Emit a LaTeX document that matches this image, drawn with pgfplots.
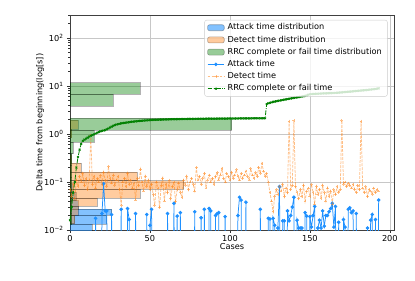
\documentclass[border=0pt]{standalone}
\usepackage{pgfplots}
\pgfplotsset{compat=1.18}
\usepackage{fontspec}
\setmainfont{DejaVu Sans}
\definecolor{attackc}{RGB}{30,144,255}
\definecolor{detectc}{RGB}{255,127,14}
\definecolor{rrcc}{RGB}{0,128,0}
\newcommand{\fs}{\fontsize{8.2bp}{9.8bp}\selectfont}
\newcommand{\hb}[4]{\addplot[#1, forget plot] coordinates {(0,#2) (#4,#2) (#4,#3) (0,#3)} -- cycle;}
\pgfplotsset{
  hbb/.style={fill=attackc, fill opacity=0.55, draw=black, draw opacity=0.3, line width=0.6bp},
  hbo/.style={fill=detectc, fill opacity=0.4, draw=black, draw opacity=0.3, line width=0.6bp},
  hbg/.style={fill=rrcc, fill opacity=0.4, draw=black, draw opacity=0.3, line width=0.6bp},
  myarea/.style={legend image code/.code={\draw[##1] (0bp,-3bp) rectangle (16.7bp,3bp);}},
  myline/.style={legend image code/.code={\draw[mark repeat=2,mark phase=2,##1] plot coordinates {(0bp,0bp) (8.35bp,0bp) (16.7bp,0bp)};}},
}
\begin{document}
\begin{tikzpicture}
\useasboundingbox (-70bp,-51bp) rectangle (345bp,230bp);
\begin{axis}[
  scale only axis, width=324bp, height=215bp,
  at={(0,0)}, anchor=south west,
  xmin=0, xmax=202.6,
  ymode=log, ymin=0.01, ymax=300,
  xtick={0,50,100,150,200}, xticklabels={0,50,100,150,200},
  ytick={0.01,0.1,1,10,100},
  yticklabels={10\textsuperscript{−2},10\textsuperscript{−1},10\textsuperscript{0},10\textsuperscript{1},10\textsuperscript{2}},
  minor ytick={0.02,0.03,0.04,0.05,0.06,0.07,0.08,0.09,0.2,0.3,0.4,0.5,0.6,0.7,0.8,0.9,2,3,4,5,6,7,8,9,20,30,40,50,60,70,80,90,200,300},
  tick align=outside, tick pos=left,
  major tick length=3bp, minor tick length=1.7bp,
  every tick/.style={black!80, line width=0.65bp},
  grid=major,
  major grid style={black!22, line width=0.65bp},
  axis line style={black!75, line width=0.65bp},
  tick label style={font=\fs},
  xticklabel style={yshift=1.5bp},
  label style={font=\fs},
  xlabel={Cases},
  ylabel={Delta time from beginning(log[s])},
  xlabel style={at={(axis description cs:0.5,-0.0777)}, anchor=center},
  ylabel style={at={(axis description cs:-0.0926,0.5)}, anchor=center},
  legend cell align=left,
  legend style={
    at={(axis description cs:0.98,0.977)}, anchor=north east,
    font=\fs, draw=black!20, fill=white, fill opacity=0.8, draw opacity=1, text opacity=1,
    rounded corners=2bp, inner xsep=2.5bp, inner ysep=1.5bp, row sep=0bp,
    nodes={inner xsep=3bp, inner ysep=2.1bp, text height=6.1bp, text depth=1.9bp},
  },
]
\addlegendimage{myarea, hbb}\addlegendentry{Attack time distribution}
\addlegendimage{myarea, hbo}\addlegendentry{Detect time distribution}
\addlegendimage{myarea, hbg}\addlegendentry{RRC complete or fail time distribution}
% attack histogram
\hb{hbb}{0.0611}{0.0919}{2}
\hb{hbb}{0.0406}{0.0611}{4}
\hb{hbb}{0.0270}{0.0406}{5}
\hb{hbb}{0.02025}{0.0270}{26}
\hb{hbb}{0.01334}{0.02025}{23}
\hb{hbb}{0.00895}{0.01334}{14}
% detect histogram
\hb{hbo}{1.271}{1.921}{5}
\hb{hbo}{0.841}{1.271}{1}
\hb{hbo}{0.2436}{0.3684}{1}
\hb{hbo}{0.1612}{0.2436}{7}
\hb{hbo}{0.1067}{0.1612}{42}
\hb{hbo}{0.07059}{0.1067}{71}
\hb{hbo}{0.0467}{0.07059}{44}
\hb{hbo}{0.03092}{0.0467}{17}
\hb{hbo}{0.02045}{0.03092}{5}
\hb{hbo}{0.01353}{0.02045}{3}
% rrc histogram
\hb{hbg}{6.67}{11.75}{44}
\hb{hbg}{3.75}{6.67}{27}
\hb{hbg}{1.206}{2.126}{101}
\hb{hbg}{0.684}{1.206}{15}
\hb{hbg}{0.388}{0.684}{2}
\hb{hbg}{0.220}{0.388}{1}
\hb{hbg}{0.125}{0.220}{1}
\hb{hbg}{0.071}{0.125}{1}
\hb{hbg}{0.0402}{0.071}{1}
\hb{hbg}{0.0228}{0.0402}{1}
\hb{hbg}{0.0130}{0.0228}{1}
% attack time
\addplot[attackc, line width=0.75bp, mark=*, mark size=1.4bp, myline] coordinates {
(0,1e-6)(1,1e-6)(2,1e-6)(3,1e-6)(4,1e-6)(5,1e-6)(6,1e-6)(7,1e-6)(8,1e-6)(9,1e-6)
(10,1e-6)(11,1e-6)(12,1e-6)(13,1e-6)(14,1e-6)(15,1e-6)(16,0.0175)(17,1e-6)(18,1e-6)(19,1e-6)
(20,0.022)(21,0.092)(22,0.025)(23,0.025)(24,1e-6)(25,1e-6)(26,0.021)(27,1e-6)(28,1e-6)(29,1e-6)
(30,1e-6)(31,1e-6)(32,0.027)(33,1e-6)(34,1e-6)(35,1e-6)(36,0.028)(37,0.0165)(38,1e-6)(39,1e-6)
(40,1e-6)(41,0.022)(42,1e-6)(43,1e-6)(44,1e-6)(45,1e-6)(46,1e-6)(47,1e-6)(48,0.021)(49,1e-6)
(50,0.0125)(51,0.027)(52,1e-6)(53,1e-6)(54,1e-6)(55,1e-6)(56,1e-6)(57,1e-6)(58,1e-6)(59,1e-6)
(60,1e-6)(61,0.022)(62,1e-6)(63,1e-6)(64,1e-6)(65,0.036)(66,1e-6)(67,0.0195)(68,1e-6)(69,0.023)
(70,1e-6)(71,1e-6)(72,1e-6)(73,1e-6)(74,1e-6)(75,1e-6)(76,1e-6)(77,1e-6)(78,0.024)(79,1e-6)
(80,1e-6)(81,1e-6)(82,0.018)(83,1e-6)(84,0.027)(85,1e-6)(86,1e-6)(87,0.028)(88,0.025)(89,1e-6)
(90,1e-6)(91,0.02)(92,0.022)(93,0.023)(94,1e-6)(95,1e-6)(96,1e-6)(97,0.019)(98,1e-6)(99,1e-6)
(100,1e-6)(101,1e-6)(102,1e-6)(103,1e-6)(104,1e-6)(105,0.02)(106,0.048)(107,0.042)(108,1e-6)(109,1e-6)
(110,0.038)(111,1e-6)(112,1e-6)(113,1e-6)(114,1e-6)(115,1e-6)(116,1e-6)(117,1e-6)(118,1e-6)(119,0.027)
(120,1e-6)(121,1e-6)(122,1e-6)(123,1e-6)(124,0.0175)(125,0.017)(126,1e-6)(127,0.0175)(128,0.0125)(129,1e-6)
(130,0.011)(131,0.08)(132,1e-6)(133,0.0155)(134,0.0155)(135,1e-6)(136,0.025)(137,0.0155)(138,0.02)(139,0.03)
(140,0.048)(141,1e-6)(142,0.016)(143,0.011)(144,0.011)(145,0.011)(146,1e-6)(147,0.023)(148,0.0195)(149,1e-6)
(150,0.019)(151,0.0115)(152,0.02)(153,0.031)(154,1e-6)(155,0.011)(156,0.016)(157,0.011)(158,0.025)(159,0.012)
(160,0.02)(161,0.02)(162,0.024)(163,0.028)(164,0.036)(165,0.0115)(166,0.031)(167,1e-6)(168,0.0145)(169,1e-6)
(170,1e-6)(171,0.0165)(172,0.0115)(173,1e-6)(174,0.027)(175,0.029)(176,0.023)(177,0.025)(178,1e-6)(179,0.022)
(180,1e-6)(181,1e-6)(182,1e-6)(183,1e-6)(184,1e-6)(185,1e-6)(186,0.011)(187,1e-6)(188,0.016)(189,0.021)
(190,1e-6)(191,0.0165)(192,1e-6)(193,0.042)
};
\addlegendentry{Attack time}
% detect time
\addplot[detectc, draw opacity=0.5, line width=0.75bp, dash pattern=on 2.8bp off 1.2bp, mark=+, mark size=1.4bp, mark options={solid, draw opacity=0.5}, myline] coordinates {
(0,0.07)(1,0.05)(2,0.09)(3,0.045)(4,0.11)(5,0.08)(6,0.13)(7,0.10)(8,0.15)(9,0.085)
(10,0.12)(11,0.07)(12,0.11)(13,0.95)(14,0.09)(15,0.13)(16,0.075)(17,0.12)(18,0.10)(19,0.14)
(20,0.09)(21,0.16)(22,0.11)(23,0.08)(24,0.21)(25,0.12)(26,0.095)(27,0.14)(28,0.085)(29,0.11)
(30,0.13)(31,0.07)(32,0.033)(33,0.10)(34,0.12)(35,0.08)(36,0.15)(37,0.09)(38,0.11)(39,0.075)
(40,0.095)(41,0.042)(42,0.12)(43,0.085)(44,0.18)(45,0.10)(46,0.065)(47,0.13)(48,0.08)(49,0.11)
(50,0.07)(51,0.09)(52,0.055)(53,0.033)(54,0.10)(55,0.075)(56,0.029)(57,0.085)(58,0.12)(59,0.04)
(60,0.09)(61,0.06)(62,0.11)(63,0.045)(64,0.08)(65,0.10)(66,0.039)(67,0.07)(68,0.095)(69,0.06)
(70,0.048)(71,0.11)(72,0.085)(73,0.13)(74,0.07)(75,0.10)(76,0.12)(77,0.09)(78,0.065)(79,0.20)
(80,0.11)(81,0.13)(82,0.09)(83,0.12)(84,0.15)(85,0.075)(86,0.11)(87,0.14)(88,0.10)(89,0.12)
(90,0.09)(91,0.13)(92,0.16)(93,0.11)(94,0.14)(95,0.19)(96,0.12)(97,0.10)(98,0.15)(99,0.13)
(100,0.11)(101,0.16)(102,0.12)(103,0.14)(104,0.18)(105,0.13)(106,0.11)(107,0.15)(108,0.12)(109,0.14)
(110,0.17)(111,0.13)(112,0.11)(113,0.19)(114,0.14)(115,0.12)(116,0.16)(117,0.13)(118,0.20)(119,0.15)
(120,0.24)(121,0.17)(122,0.13)(123,0.15)(124,0.10)(125,0.06)(126,0.04)(127,0.024)(128,0.05)(129,0.07)
(130,0.055)(131,0.08)(132,0.065)(133,0.09)(134,0.05)(135,0.075)(136,0.06)(137,1.85)(138,0.07)(139,0.085)
(140,1.88)(141,0.08)(142,0.06)(143,0.045)(144,0.07)(145,0.05)(146,0.085)(147,0.04)(148,0.065)(149,0.075)
(150,0.05)(151,0.09)(152,0.06)(153,0.035)(154,0.08)(155,0.055)(156,0.07)(157,0.045)(158,0.085)(159,0.06)
(160,0.04)(161,0.075)(162,0.05)(163,0.065)(164,0.035)(165,0.07)(166,0.055)(167,0.08)(168,0.06)(169,0.07)
(170,1.9)(171,0.09)(172,0.10)(173,0.08)(174,0.095)(175,0.085)(176,0.075)(177,0.09)(178,0.07)(179,0.06)
(180,0.085)(181,0.07)(182,1.85)(183,0.075)(184,0.06)(185,0.08)(186,0.05)(187,0.07)(188,0.065)(189,0.055)
(190,0.075)(191,0.06)(192,0.07)(193,0.065)
};
\addlegendentry{Detect time}
% rrc time
\addplot[rrcc, line width=0.8bp, dash pattern=on 4.8bp off 1.3bp on 0.8bp off 1.3bp, mark=x, mark size=1.3bp, mark options={solid}, myline] coordinates {
(0,0.016)(1,0.03)(2,0.06)(3,0.1)(4,0.2)(5,0.33)(6,0.47)(7,0.62)(8,0.72)(9,0.76)
(10,0.80)(11,0.84)(12,0.88)(13,0.92)(14,0.95)(15,0.98)(16,1.02)(17,1.06)(18,1.10)(19,1.13)
(20,1.16)(21,1.18)(22,1.20)(23,1.25)(24,1.30)(25,1.36)(26,1.42)(27,1.48)(28,1.53)(29,1.57)
(30,1.60)(31,1.63)(32,1.66)(33,1.68)(34,1.70)(35,1.72)(36,1.74)(37,1.76)(38,1.78)(39,1.80)
(40,1.81)(41,1.83)(42,1.84)(43,1.86)(44,1.87)(45,1.88)(46,1.90)(47,1.91)(48,1.92)(49,1.93)
(50,1.94)(51,1.95)(52,1.96)(53,1.97)(54,1.97)(55,1.98)(56,1.99)(57,1.99)(58,2.00)(59,2.00)
(60,2.01)(61,2.01)(62,2.02)(63,2.02)(64,2.03)(65,2.03)(66,2.03)(67,2.04)(68,2.04)(69,2.04)
(70,2.05)(71,2.05)(72,2.05)(73,2.05)(74,2.06)(75,2.06)(76,2.06)(77,2.06)(78,2.06)(79,2.07)
(80,2.07)(81,2.07)(82,2.07)(83,2.07)(84,2.07)(85,2.08)(86,2.08)(87,2.08)(88,2.08)(89,2.08)
(90,2.08)(91,2.08)(92,2.09)(93,2.09)(94,2.09)(95,2.09)(96,2.09)(97,2.09)(98,2.09)(99,2.10)
(100,2.10)(101,2.10)(102,2.10)(103,2.10)(104,2.10)(105,2.10)(106,2.11)(107,2.11)(108,2.11)(109,2.11)
(110,2.11)(111,2.11)(112,2.11)(113,2.11)(114,2.12)(115,2.12)(116,2.12)(117,2.12)(118,2.12)(119,2.12)
(120,2.12)(121,2.12)(122,2.12)(123,4.2)(124,4.35)(125,4.45)(126,4.55)(127,4.65)(128,4.72)(129,4.8)
(130,4.88)(131,4.95)(132,5.02)(133,5.1)(134,5.18)(135,5.25)(136,5.33)(137,5.4)(138,5.48)(139,5.55)
(140,5.63)(141,5.7)(142,5.78)(143,5.86)(144,5.94)(145,6.02)(146,6.1)(147,6.2)(148,6.35)(149,6.55)
(150,6.72)(151,6.76)(152,6.8)(153,6.83)(154,6.86)(155,6.89)(156,6.92)(157,6.95)(158,6.98)(159,7.0)
(160,7.02)(161,7.04)(162,7.06)(163,7.08)(164,7.1)(165,7.13)(166,7.17)(167,7.21)(168,7.26)(169,7.31)
(170,7.36)(171,7.41)(172,7.46)(173,7.51)(174,7.56)(175,7.61)(176,7.66)(177,7.72)(178,7.78)(179,7.84)
(180,7.9)(181,7.96)(182,8.02)(183,8.08)(184,8.14)(185,8.2)(186,8.27)(187,8.34)(188,8.41)(189,8.48)
(190,8.56)(191,8.64)(192,8.76)(193,8.9)
};
\addlegendentry{RRC complete or fail time}
\end{axis}
\end{tikzpicture}
\end{document}
